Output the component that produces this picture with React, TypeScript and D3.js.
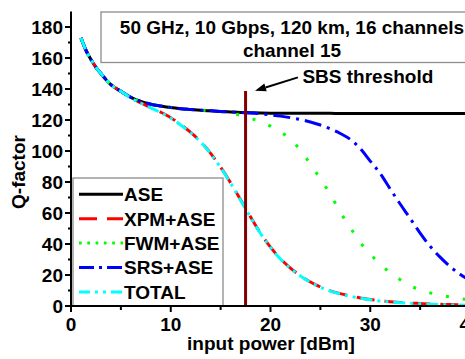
import React from "react";
import * as d3 from "d3";

// ---- data ----
const xs = [1, 1.5, 2, 2.5, 3, 4, 5, 6, 7, 8, 9, 10, 11, 12, 13, 14, 15, 16, 17, 18, 19, 20,
  21, 22, 23, 24, 25, 26, 27, 28, 29, 30, 31, 32, 33, 34, 35, 36, 37, 38, 39, 40];

const aseQ = [173, 165, 159, 154, 150, 142.8, 138.5, 134.6, 132, 130.2, 129, 128, 127.3, 126.8, 126.3, 125.9, 125.5, 125.2, 124.9, 124.7, 124.5, 124.4,
  124.4, 124.3, 124.3, 124.3, 124.3, 124.3, 124.2, 124.2, 124.2, 124.2, 124.2, 124.2, 124.2, 124.2, 124.2, 124.2, 124.2, 124.2, 124.2, 124.2];

const xpmQ = [173, 165, 159, 154, 150, 142.8, 138.5, 134.3, 131, 128, 125, 121.5, 117, 112, 106, 98.5, 89.5, 79.5, 68.5, 57.5, 47, 38,
  30.5, 24.5, 19.5, 15.5, 12.3, 9.8, 8, 6.5, 5.2, 4.2, 3.4, 2.8, 2.3, 1.9, 1.6, 1.3, 1.1, 0.9, 0.8, 0.7];

const fwmQ = [173, 165, 159, 154, 150, 142.8, 138.5, 134.6, 132, 130.2, 129, 128, 127.3, 126.8, 126.3, 125.9, 125.4, 124.5, 123, 121, 119, 116,
  112.5, 107.5, 100.5, 91.5, 82, 72, 60.5, 50.5, 41, 33.5, 27, 21.5, 17, 13, 10.5, 8.5, 7, 5.8, 4.8, 4];

const srsQ = [173, 165, 159, 154, 150, 142.8, 138.5, 134.6, 132, 130.2, 129, 128, 127.3, 126.8, 126.3, 125.9, 125.5, 125.1, 124.8, 124.5, 124, 123.3,
  122.5, 121.5, 120.3, 118.7, 116.8, 114.3, 111.3, 107.5, 101.5, 93.5, 85.5, 75.5, 65.8, 56.5, 47, 38.5, 31.5, 25.5, 20.5, 16.5];

const totalQ = [173, 165, 159, 154, 150, 142.8, 138.5, 134.2, 130.8, 127.8, 124.8, 121.3, 116.8, 111.8, 105.8, 98.3, 89.3, 79.3, 68.3, 57.3, 46.8, 37.8,
  30.3, 24.3, 19.3, 15.3, 12.1, 9.6, 7.8, 6.3, 5, 4, 3.2, 2.6, 2.1, 1.7, 1.4, 1.1, 0.9, 0.7, 0.6, 0.5];

const seriesNames = ["ASE", "XPM+ASE", "FWM+ASE", "SRS+ASE", "TOTAL"];
const seriesValues = [aseQ, xpmQ, fwmQ, srsQ, totalQ];
const seriesColors = ["#000000", "#ff0000", "#00ff00", "#0000ff", "#00ffff"];
const curveDash = ["", "18,10", "3,14", "17,6,3,6", "12,5,3,5,3,5"];
const legendDash = ["", "18,10", "2.7,5.6", "15,5,3,5", "11,5,3,5,3,5"];

const xMajorTicks = [0, 10, 20, 30, 40];
const xMinorTicks = [5, 15, 25, 35];
const yMajorTicks = [0, 20, 40, 60, 80, 100, 120, 140, 160, 180];
const yMinorTicks = [10, 30, 50, 70, 90, 110, 130, 150, 170];

const titleLines = ["50 GHz, 10 Gbps, 120 km, 16 channels", "channel 15"];
const sbsPower = 17.5;
const sbsTop = 138.7;
const sbsLabel = "SBS threshold";
const arrowTail = [22.75, 147.5];
const arrowHead = [18.45, 138.9];

const W = 465;
const H = 359;
const FONT = "'Liberation Sans', Arial, sans-serif";

export default function App() {
  const x = d3.scaleLinear().domain([0, 40]).range([71, 470]);
  const y = d3.scaleLinear().domain([0, 190]).range([306, 11.5]);

  const line = d3
    .line<[number, number]>()
    .x((d) => x(d[0]))
    .y((d) => y(d[1]))
    .curve(d3.curveMonotoneX);

  const legendX0 = 73;
  const legendY0 = 178;
  const legendRowH = 24.4;

  // arrow geometry
  const tx = x(arrowTail[0]);
  const ty = y(arrowTail[1]);
  const hx = x(arrowHead[0]);
  const hy = y(arrowHead[1]);
  const ang = Math.atan2(hy - ty, hx - tx);
  const headLen = 11;
  const headW = 4;
  const bx = hx - headLen * Math.cos(ang);
  const by = hy - headLen * Math.sin(ang);
  const px = -Math.sin(ang);
  const py = Math.cos(ang);
  const headPts = `${hx},${hy} ${bx + px * headW},${by + py * headW} ${bx - px * headW},${by - py * headW}`;

  return (
    <svg
      width={W}
      height={H}
      style={{ position: "absolute", left: 0, top: 0, background: "#fff" }}
      fontFamily={FONT}
      fontWeight="bold"
      fontSize={19}
    >
      <rect x={0} y={0} width={W} height={H} fill="#fff" />

      {/* title box */}
      <rect x={101} y={12} width={400} height={50.5} fill="#fff" stroke="#8c8c8c" strokeWidth={1.3} />
      <text x={292} y={33.5} textAnchor="middle">{titleLines[0]}</text>
      <text x={292} y={57} textAnchor="middle">{titleLines[1]}</text>

      {/* curves */}
      {seriesValues.map((vals, i) => (
        <path
          key={seriesNames[i]}
          d={line(xs.map((xv, j) => [xv, vals[j]] as [number, number])) || ""}
          fill="none"
          stroke={seriesColors[i]}
          strokeWidth={3}
          strokeDasharray={curveDash[i] || undefined}
        />
      ))}

      {/* SBS threshold */}
      <line x1={x(sbsPower)} x2={x(sbsPower)} y1={y(sbsTop)} y2={y(0)} stroke="#800000" strokeWidth={3} />
      <line x1={tx} y1={ty} x2={bx} y2={by} stroke="#000" strokeWidth={2} />
      <polygon points={headPts} fill="#000" />
      <text x={x(23.2)} y={83}>{sbsLabel}</text>

      {/* legend */}
      <rect x={legendX0} y={legendY0} width={150} height={306 - legendY0} fill="#fff" stroke="#8c8c8c" strokeWidth={1.3} />
      {seriesNames.map((name, i) => {
        const cy = 194.3 + i * legendRowH;
        return (
          <g key={name}>
            <line x1={79} x2={123} y1={cy} y2={cy} stroke={seriesColors[i]} strokeWidth={3}
              strokeDasharray={legendDash[i] || undefined} />
            <text x={124} y={cy} dy="0.36em">{name}</text>
          </g>
        );
      })}

      {/* axes */}
      <line x1={x(0)} x2={x(40)} y1={y(0)} y2={y(0)} stroke="#000" strokeWidth={2} />
      <line x1={x(0)} x2={x(0)} y1={y(0) + 1} y2={y(190)} stroke="#000" strokeWidth={2} />
      {xMajorTicks.map((t) => (
        <g key={"xM" + t}>
          <line x1={x(t)} x2={x(t)} y1={y(0)} y2={y(0) + 6} stroke="#000" strokeWidth={2} />
          <text x={x(t)} y={331} textAnchor="middle">{t}</text>
        </g>
      ))}
      {xMinorTicks.map((t) => (
        <line key={"xm" + t} x1={x(t)} x2={x(t)} y1={y(0)} y2={y(0) + 4} stroke="#000" strokeWidth={2} />
      ))}
      {yMajorTicks.map((t) => (
        <g key={"yM" + t}>
          <line x1={x(0) - 6} x2={x(0)} y1={y(t)} y2={y(t)} stroke="#000" strokeWidth={2} />
          <text x={63} y={y(t)} dy="0.36em" textAnchor="end">{t}</text>
        </g>
      ))}
      {yMinorTicks.map((t) => (
        <line key={"ym" + t} x1={x(0) - 3} x2={x(0)} y1={y(t)} y2={y(t)} stroke="#000" strokeWidth={2} />
      ))}

      {/* axis titles */}
      <text x={271} y={350} textAnchor="middle">input power [dBm]</text>
      <text transform={`translate(25,172) rotate(-90)`} textAnchor="middle">Q-factor</text>
    </svg>
  );
}
